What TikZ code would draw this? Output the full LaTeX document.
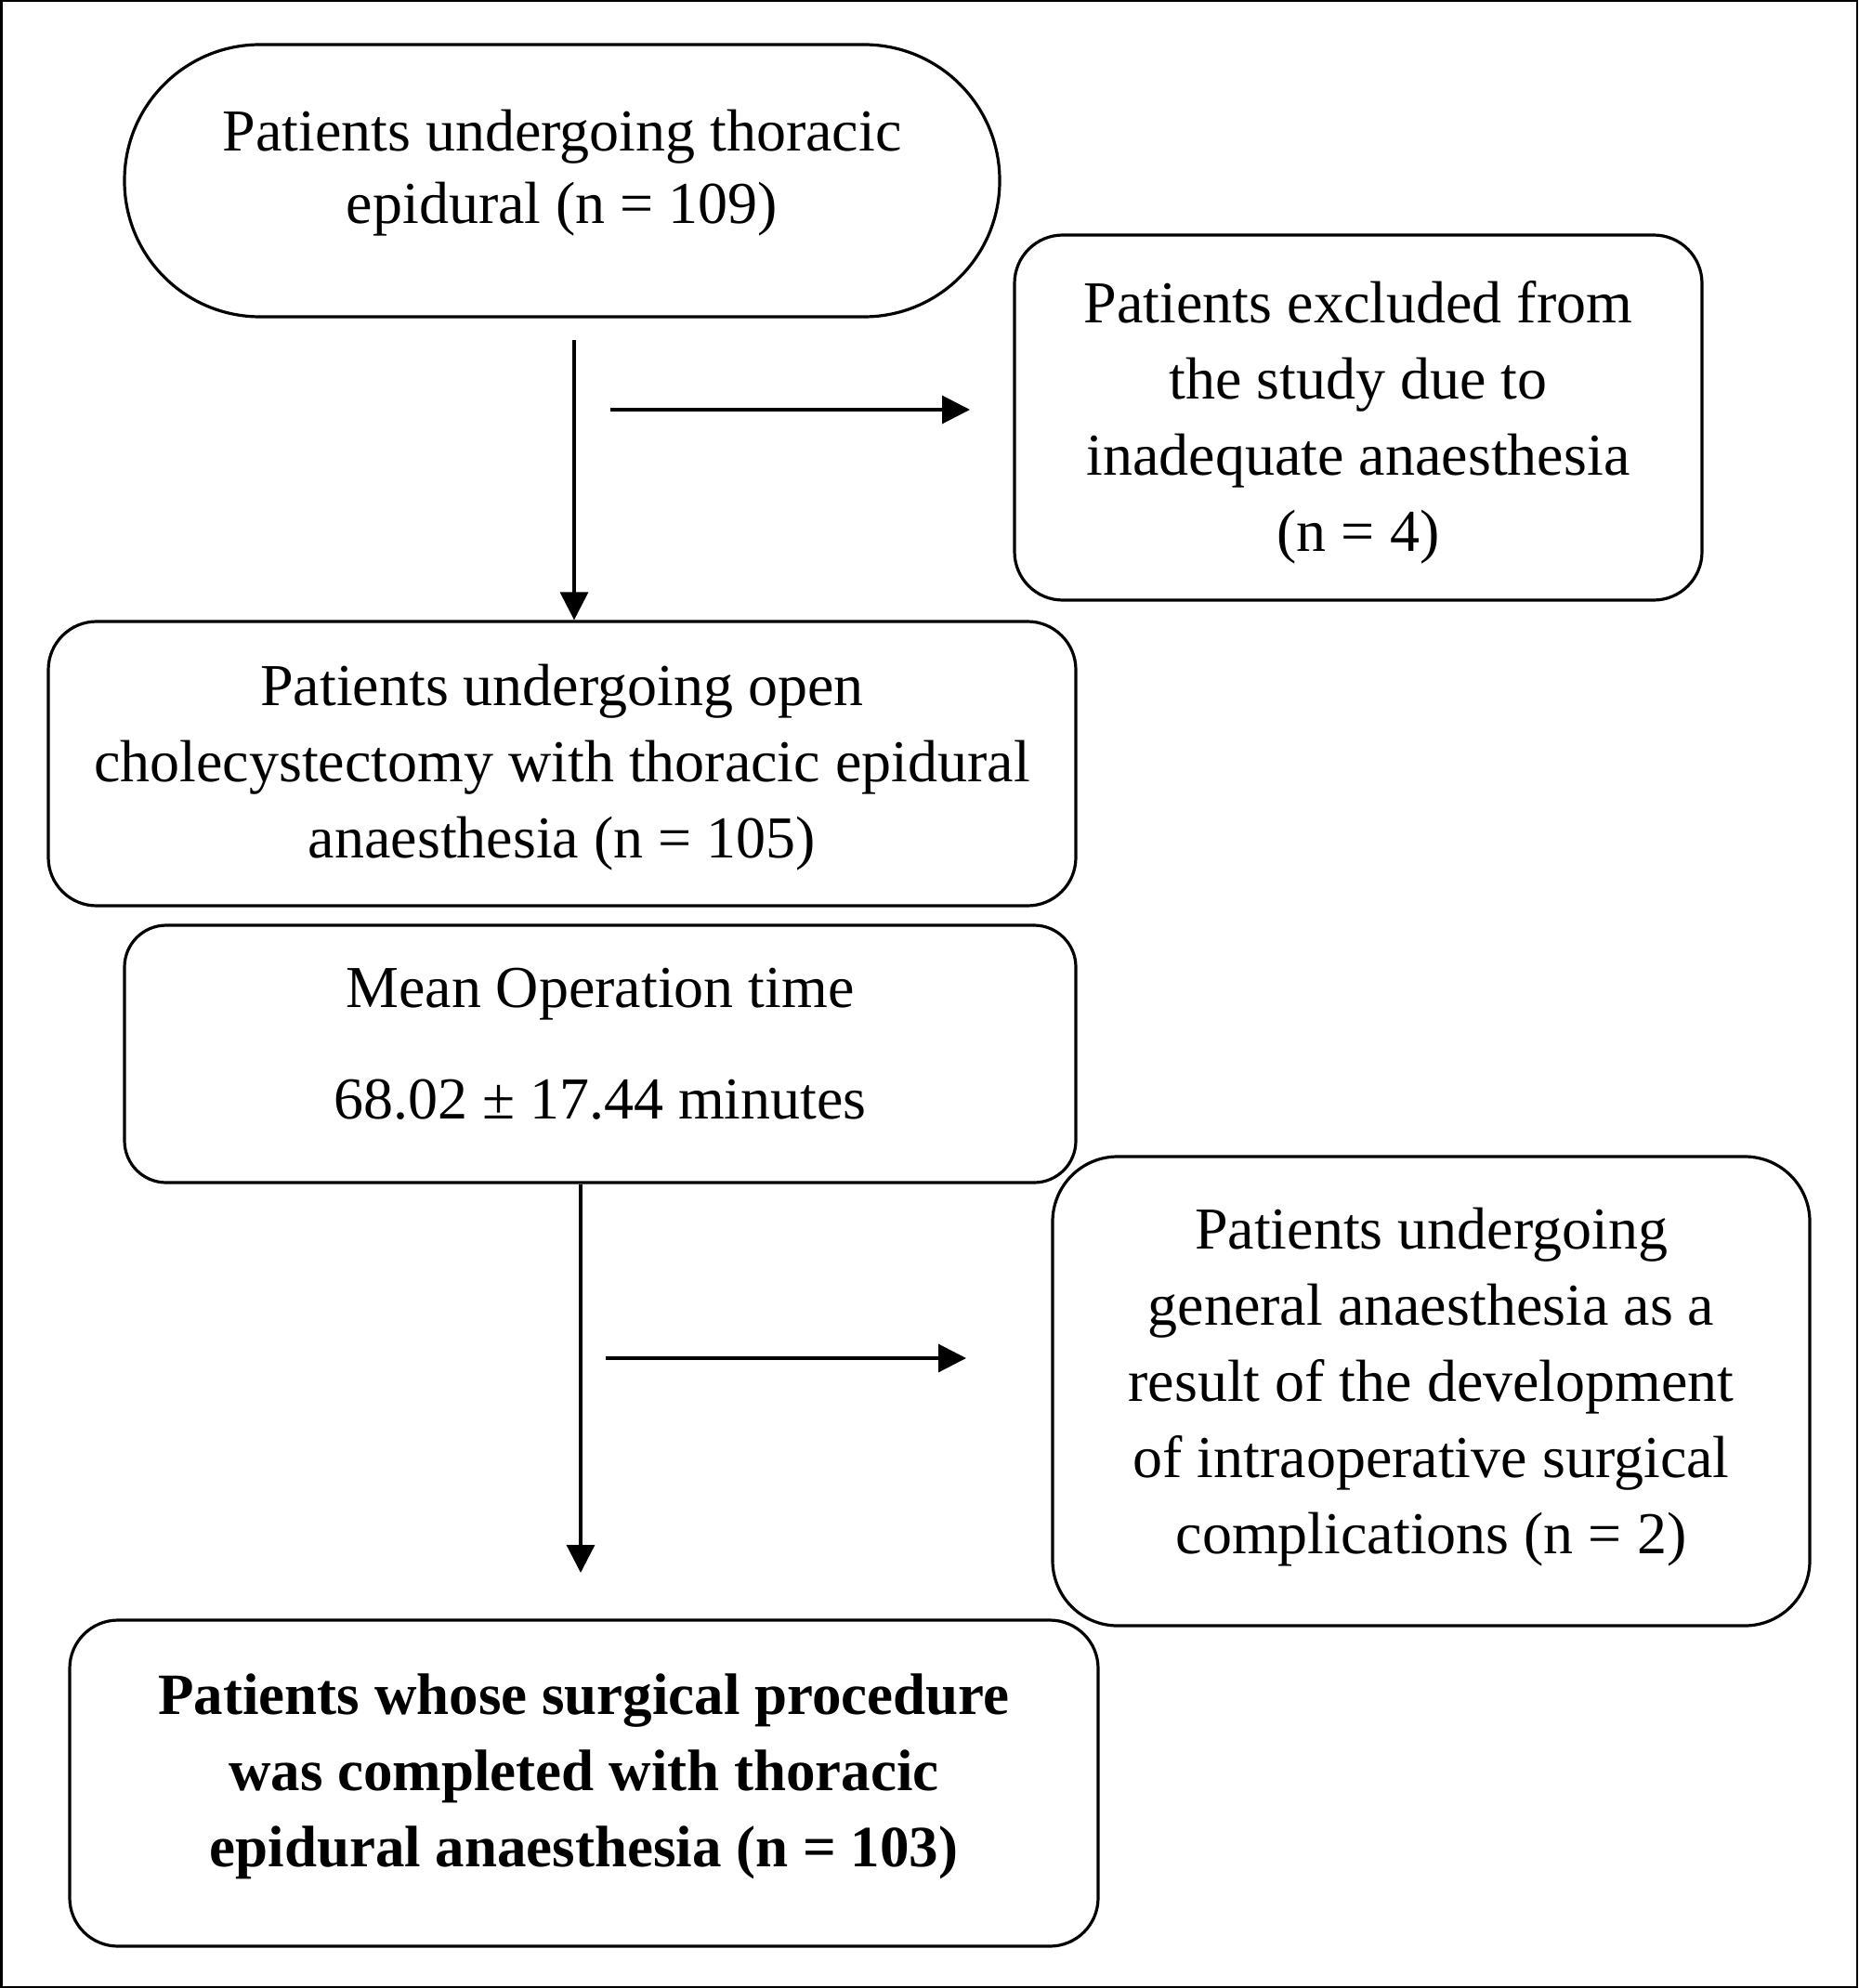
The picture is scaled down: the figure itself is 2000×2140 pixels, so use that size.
\documentclass[tikz,border=0pt]{standalone}
\usepackage{fontspec}
\setmainfont{Liberation Serif}
\usetikzlibrary{arrows.meta}
\begin{document}
\begin{tikzpicture}[x=1pt,y=-1pt,
  box/.style={draw=black, line width=3.2pt, rounded corners=52pt, inner sep=0pt},
  txt/.style={align=center, inner sep=0pt, font=\fontsize{64}{82}\selectfont},
  arr/.style={line width=3.2pt, -{Triangle[length=30pt,width=30pt]}}
]
\useasboundingbox (0,0) rectangle (2000,2140);
\draw[line width=2.5pt] (1.25,1.25) rectangle (1998.75,2138.75);

\node[box, rounded corners=146pt, minimum width=942pt, minimum height=293pt] (start) at (605,194.5) {};
\node[txt, font=\fontsize{64}{78}\selectfont] (startT) at (605,186.5)
  {Patients undergoing thoracic\\epidural (n = 109)};

\node[box, minimum width=740pt, minimum height=393pt] (excl) at (1462,449.5) {};
\node[txt] (exclT) at (1462,454.5)
  {Patients excluded from\\the study due to\\inadequate anaesthesia\\(n = 4)};

\node[box, minimum width=1106pt, minimum height=306pt] (open) at (605,822) {};
\node[txt] (openT) at (605,826)
  {Patients undergoing open\\cholecystectomy with thoracic epidural\\anaesthesia (n = 105)};

\node[box, rounded corners=45pt, minimum width=1024pt, minimum height=277pt] (mean) at (646,1134.5) {};
\node[txt] (meanT) at (646,1124)
  {Mean Operation time\\[38pt]68.02 ± 17.44 minutes};

\node[box, rounded corners=70pt, minimum width=815pt, minimum height=505pt] (ga) at (1540.5,1497.5) {};
\node[txt] (gaT) at (1540.5,1493.5)
  {Patients undergoing\\general anaesthesia as a\\result of the development\\of intraoperative surgical\\complications (n = 2)};

\node[box, minimum width=1107pt, minimum height=351pt] (final) at (628.5,1919.5) {};
\node[txt, font=\fontsize{63}{82}\selectfont\bfseries] (finalT) at (628.5,1912.5)
  {Patients whose surgical procedure\\was completed with thoracic\\epidural anaesthesia (n = 103)};

\coordinate (a1s) at (618,366);
\coordinate (h1s) at (657,441);
\coordinate (h1e) at (1044,441);
\coordinate (a2e) at (625,1693);
\coordinate (h2s) at (652,1462);
\coordinate (h2e) at (1040,1462);

\draw[arr] (a1s) -- (a1s |- open.north);
\draw[arr] (h1s) -- (h1e);
\draw[arr] (a2e |- mean.south) -- (a2e);
\draw[arr] (h2s) -- (h2e);
\end{tikzpicture}
\end{document}
